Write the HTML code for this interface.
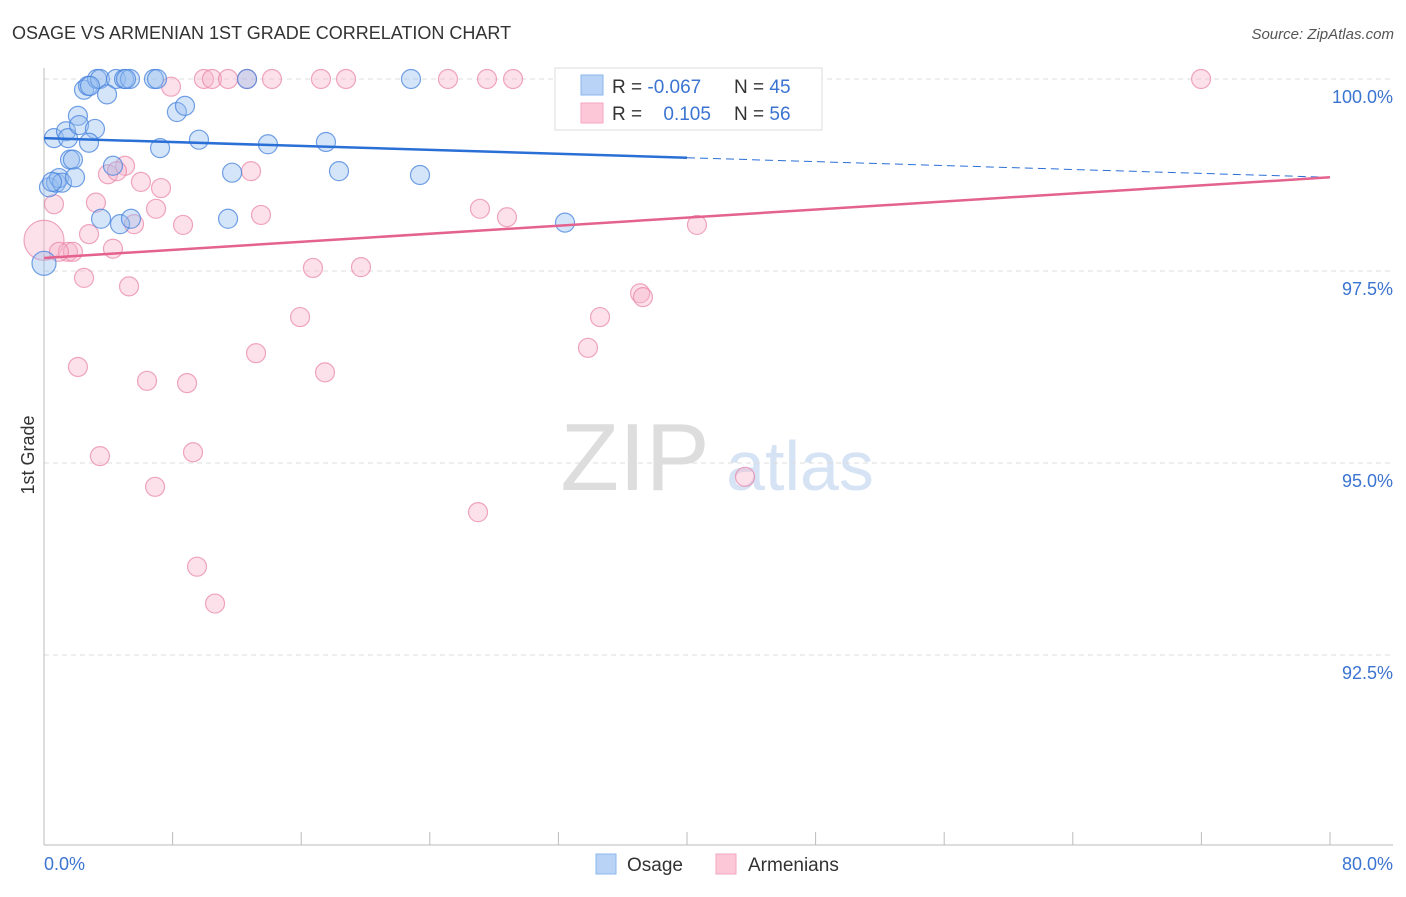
<!DOCTYPE html>
<html><head><meta charset="utf-8">
<style>
body{margin:0;background:#fff;font-family:"Liberation Sans",sans-serif;}
svg text{font-family:"Liberation Sans",sans-serif;}
</style></head><body>
<svg id="chart" width="1406" height="892">
<text x="12" y="39" font-size="18" fill="#333">OSAGE VS ARMENIAN 1ST GRADE CORRELATION CHART</text>
<text x="1394" y="39" font-size="15" fill="#555" font-style="italic" text-anchor="end">Source: ZipAtlas.com</text>
<text x="635" y="490" font-size="96" fill="#ddd" font-family="Liberation Serif" text-anchor="middle">ZIP</text>
<text x="800" y="490" font-size="70" fill="#d5e3f5" text-anchor="middle">atlas</text>
<g id="grid"></g>
<g id="axes"></g>
<g id="marks"></g>
<text transform="translate(34,455) rotate(-90)" font-size="18" fill="#333" text-anchor="middle">1st Grade</text>
<g>
<rect x="555" y="68" width="267" height="62" fill="#fff" stroke="#ddd"/>
<rect x="581" y="75" width="22" height="20" fill="#b8d3f5" stroke="#8ab4ec"/>
<rect x="581" y="103" width="22" height="20" fill="#fcc8d8" stroke="#f3a6bf"/>
<text x="612" y="93" font-size="19" fill="#333">R = <tspan fill="#3b74d1">-0.067</tspan></text>
<text x="734" y="93" font-size="19" fill="#333">N = <tspan fill="#3b74d1">45</tspan></text>
<text x="612" y="120" font-size="19" fill="#333">R = <tspan fill="#3b74d1" dx="16">0.105</tspan></text>
<text x="734" y="120" font-size="19" fill="#333">N = <tspan fill="#3b74d1">56</tspan></text>
</g>
<g>
<rect x="596" y="854" width="20" height="20" fill="#b8d3f5" stroke="#8ab4ec"/>
<text x="627" y="871" font-size="19" fill="#333">Osage</text>
<rect x="716" y="854" width="20" height="20" fill="#fcc8d8" stroke="#f3a6bf"/>
<text x="748" y="871" font-size="19" fill="#333">Armenians</text>
</g>
</svg>
<script>
const blueX=[0.62,1.37,1.49,2.11,2.49,2.74,3.30,3.48,4.48,4.98,5.35,6.84,7.03,12.63,22.83,3.92,8.27,8.77,2.18,3.17,2.80,1.62,1.80,7.22,9.64,13.93,17.54,4.29,11.70,18.35,23.39,0.31,0.75,0.93,1.12,1.93,3.55,4.73,5.41,11.45,32.41,0,0.50,5.10,2.86];
const blueY=[99.23,99.32,99.23,99.52,99.86,99.91,100,100,100,100,100,100,100,100,100,99.80,99.57,99.65,99.40,99.35,99.17,98.95,98.95,99.10,99.21,99.15,99.18,98.87,98.78,98.80,98.75,98.59,98.65,98.71,98.65,98.72,98.18,98.11,98.18,98.18,98.13,97.60,98.66,100,99.91];
const pinkX=[12.63,9.95,10.45,11.45,14.18,17.23,18.79,25.13,27.56,29.18,32.85,71.98,7.90,38.51,5.04,3.98,4.54,12.88,6.03,7.28,0.62,3.23,6.97,13.50,8.65,5.60,27.12,28.80,40.62,2.80,0,1.49,1.80,4.29,16.73,19.72,2.49,5.29,37.08,37.26,15.93,34.59,13.19,33.84,2.11,6.41,8.90,17.48,3.48,9.27,6.91,43.61,27.00,9.52,10.64,0.93];
const pinkY=[100,100,100,100,100,100,100,100,100,100,100,100,99.90,99.56,98.87,98.76,98.80,98.80,98.66,98.58,98.37,98.39,98.31,98.23,98.10,98.11,98.31,98.20,98.10,97.98,97.90,97.75,97.75,97.79,97.54,97.55,97.41,97.30,97.21,97.16,96.90,96.90,96.43,96.50,96.25,96.07,96.04,96.18,95.09,95.14,94.69,94.82,94.36,93.65,93.17,97.75];
const blueTrend=[99.23,98.72];
const pinkTrend=[97.67,98.72];
const yTicks=[100,97.5,95,92.5];
const yTickLabels=["100.0%","97.5%","95.0%","92.5%"];
const xTicks=[0,8,16,24,32,40,48,56,64,72,80];
const xEdgeLabels=["0.0%","80.0%"];

const NS="http://www.w3.org/2000/svg";
const sx=v=>44+v*(1286/80);
const sy=v=>79+(100-v)*(192/2.5);
function mk(tag,attrs,parent){const e=document.createElementNS(NS,tag);for(const k in attrs)e.setAttribute(k,attrs[k]);parent.appendChild(e);return e;}
const grid=document.getElementById('grid'),axes=document.getElementById('axes'),marks=document.getElementById('marks');
yTicks.forEach((t,i)=>{
 const l=mk('line',{x1:44,x2:1393,y1:sy(t),y2:sy(t),stroke:'#ddd','stroke-dasharray':'5,4'},grid);
 
 
 const tx=mk('text',{x:1393,y:sy(t)+24,'font-size':18,fill:'#3b74d1','text-anchor':'end'},grid);
 tx.textContent=yTickLabels[i];
 
 
});
const xa=mk('line',{x1:44,x2:1393,y1:845,y2:845,stroke:'#bbb'},axes);


const ya=mk('line',{x1:44,x2:44,y1:68,y2:845,stroke:'#bbb'},axes);


xTicks.forEach(t=>{
 const l=mk('line',{x1:sx(t),x2:sx(t),y1:832,y2:845,stroke:'#bbb'},axes);
 
 
});
const xl0=mk('text',{x:44,y:870,'font-size':18,fill:'#3b74d1'},axes);xl0.textContent=xEdgeLabels[0];


const xl1=mk('text',{x:1393,y:870,'font-size':18,fill:'#3b74d1','text-anchor':'end'},axes);xl1.textContent=xEdgeLabels[1];



function dot(x,y,fill,stroke,name){
 let r=9.5;
 if(x===0&&y>97.8&&y<98)r=20;
 if(x===0&&y<97.7&&y>97.5)r=12;
 const c=mk('circle',{cx:sx(x),cy:sy(y),r:r,fill:fill,stroke:stroke,'stroke-width':1.2},marks);
 
 
}
pinkX.forEach((x,i)=>dot(x,pinkY[i],'rgba(248,180,202,0.4)','rgba(232,130,165,0.7)','armenians-point'));
blueX.forEach((x,i)=>dot(x,blueY[i],'rgba(150,190,240,0.4)','rgba(70,130,220,0.75)','osage-point'));
const bAt=v=>blueTrend[0]+(blueTrend[1]-blueTrend[0])*v/80;
const pAt=v=>pinkTrend[0]+(pinkTrend[1]-pinkTrend[0])*v/80;
const bl=mk('line',{x1:sx(0),y1:sy(bAt(0)),x2:sx(40),y2:sy(bAt(40)),stroke:'#2a6fd6','stroke-width':2.5},marks);


const bd=mk('line',{x1:sx(40),y1:sy(bAt(40)),x2:sx(80),y2:sy(bAt(80)),stroke:'#2a6fd6','stroke-width':1,'stroke-dasharray':'8,5'},marks);


const pl=mk('line',{x1:sx(0),y1:sy(pAt(0)),x2:sx(80),y2:sy(pAt(80)),stroke:'#e4628e','stroke-width':2.5},marks);


</script>
</body></html>
